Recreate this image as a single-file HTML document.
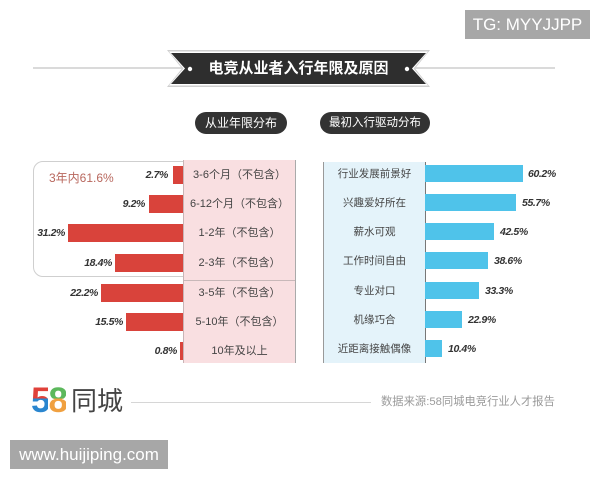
<!DOCTYPE html>
<html><head><meta charset="utf-8">
<style>
html,body{margin:0;padding:0;}
body{width:600px;height:480px;position:relative;background:#fff;overflow:hidden;font-family:"Liberation Sans","Noto Sans CJK SC",sans-serif;}
.a{position:absolute;}
.tg{left:465px;top:10px;width:125px;height:29px;background:#a7a7a7;color:#fff;font-size:17px;line-height:29px;text-align:center;}
.wm{left:10px;top:440px;width:158px;height:29px;background:#a7a7a7;color:#fff;font-size:17px;line-height:29px;text-align:center;}
.hline{left:33px;top:67px;width:522px;height:2px;background:#dadada;}
.title{left:170px;top:52px;width:257px;height:33px;line-height:33px;text-align:center;color:#fff;font-weight:bold;font-size:15px;}
.pill{height:22px;line-height:22px;top:112px;border-radius:11px;background:#333;color:#fff;text-align:center;}
.box{left:33px;top:161px;width:170px;height:114px;border:1px solid #cfcfcf;border-radius:10px;}
.pink{left:183px;top:160px;width:111px;height:203px;background:#f9dfe1;border-left:1px solid #c9b4b6;border-right:1px solid #aaa;}
.blue{left:323px;top:162px;width:101px;height:201px;background:#e4f3fa;border-left:1px solid #999;border-right:1px solid #777;}
.rb{background:#d9433b;height:18px;}
.bb{background:#4fc3ea;height:17px;}
.v{font-size:10.5px;font-weight:bold;font-style:italic;color:#333;letter-spacing:-0.4px;line-height:14px;}
.pl{left:184px;width:111px;text-align:center;font-size:11px;color:#444;line-height:14px;white-space:nowrap;}
.bl{left:324px;width:101px;text-align:center;font-size:10.5px;color:#444;line-height:14px;}
</style></head><body>
<div class="a tg">TG: MYYJJPP</div>
<div class="a hline"></div>
<svg class="a" style="left:0;top:0" width="600" height="100">
<polygon points="167,50 430,50 415,68.5 430,87 167,87 182,68.5" fill="#cfcfcf"/>
<polygon points="169,51.5 428,51.5 413.5,68.5 428,85.5 169,85.5 183.5,68.5" fill="#fff"/>
<polygon points="171,53 426,53 412,68.5 426,84 171,84 185,68.5" fill="#2e2e2e"/>
<circle cx="190" cy="69" r="2.2" fill="#fff"/>
<circle cx="407" cy="69" r="2.2" fill="#fff"/>
</svg>
<div class="a title">电竞从业者入行年限及原因</div>
<div class="a pill" style="left:195px;width:92px;font-size:12px;">从业年限分布</div>
<div class="a pill" style="left:320px;width:110px;font-size:11.5px;">最初入行驱动分布</div>

<div class="a box"></div>
<div class="a" style="left:49px;top:171px;font-size:12px;color:#b8675d;line-height:14px;">3年内61.6%</div>
<div class="a pink"></div>
<div class="a" style="left:184px;top:280px;width:111px;height:1px;background:#c8b8b9;"></div>

<!-- left bars -->
<div class="a rb" style="left:173px;width:10px;top:166px;"></div>
<div class="a rb" style="left:149px;width:34px;top:195px;"></div>
<div class="a rb" style="left:68px;width:115px;top:224px;"></div>
<div class="a rb" style="left:115px;width:68px;top:254px;"></div>
<div class="a rb" style="left:101px;width:82px;top:284px;"></div>
<div class="a rb" style="left:126px;width:57px;top:313px;"></div>
<div class="a rb" style="left:180px;width:3px;top:342px;"></div>

<div class="a v" style="right:432px;top:168px;">2.7%</div>
<div class="a v" style="right:455px;top:197px;">9.2%</div>
<div class="a v" style="right:535px;top:226px;">31.2%</div>
<div class="a v" style="right:488px;top:256px;">18.4%</div>
<div class="a v" style="right:502px;top:286px;">22.2%</div>
<div class="a v" style="right:477px;top:315px;">15.5%</div>
<div class="a v" style="right:423px;top:344px;">0.8%</div>

<div class="a pl" style="top:168px;">3-6个月（不包含）</div>
<div class="a pl" style="top:197px;">6-12个月（不包含）</div>
<div class="a pl" style="top:226px;">1-2年（不包含）</div>
<div class="a pl" style="top:256px;">2-3年（不包含）</div>
<div class="a pl" style="top:286px;">3-5年（不包含）</div>
<div class="a pl" style="top:315px;">5-10年（不包含）</div>
<div class="a pl" style="top:344px;">10年及以上</div>

<!-- right -->
<div class="a blue"></div>
<div class="a bb" style="left:425px;width:98px;top:165px;"></div>
<div class="a bb" style="left:425px;width:91px;top:194px;"></div>
<div class="a bb" style="left:425px;width:69px;top:223px;"></div>
<div class="a bb" style="left:425px;width:63px;top:252px;"></div>
<div class="a bb" style="left:425px;width:54px;top:282px;"></div>
<div class="a bb" style="left:425px;width:37px;top:311px;"></div>
<div class="a bb" style="left:425px;width:17px;top:340px;"></div>

<div class="a v" style="left:528px;top:167px;">60.2%</div>
<div class="a v" style="left:522px;top:196px;">55.7%</div>
<div class="a v" style="left:500px;top:225px;">42.5%</div>
<div class="a v" style="left:494px;top:254px;">38.6%</div>
<div class="a v" style="left:485px;top:284px;">33.3%</div>
<div class="a v" style="left:468px;top:313px;">22.9%</div>
<div class="a v" style="left:448px;top:342px;">10.4%</div>

<div class="a bl" style="top:167px;">行业发展前景好</div>
<div class="a bl" style="top:196px;">兴趣爱好所在</div>
<div class="a bl" style="top:225px;">薪水可观</div>
<div class="a bl" style="top:254px;">工作时间自由</div>
<div class="a bl" style="top:284px;">专业对口</div>
<div class="a bl" style="top:313px;">机缘巧合</div>
<div class="a bl" style="top:342px;">近距离接触偶像</div>

<!-- footer -->
<div class="a" style="left:31px;top:381px;font-size:35px;font-weight:bold;line-height:40px;letter-spacing:-2px;">
<span style="background:linear-gradient(#e0413a 45%,#2a86cf 45%);-webkit-background-clip:text;background-clip:text;color:transparent;">5</span><span style="background:linear-gradient(#5cb85c 45%,#f0a040 45%);-webkit-background-clip:text;background-clip:text;color:transparent;">8</span></div>
<div class="a" style="left:71px;top:386px;font-size:26px;line-height:30px;color:#444;">同城</div>
<div class="a" style="left:131px;top:402px;width:240px;height:1px;background:#d6d6d6;"></div>
<div class="a" style="left:381px;top:395px;font-size:11.3px;color:#9a9a9a;line-height:14px;white-space:nowrap;">数据来源:58同城电竞行业人才报告</div>
<div class="a wm">www.huijiping.com</div>
</body></html>
